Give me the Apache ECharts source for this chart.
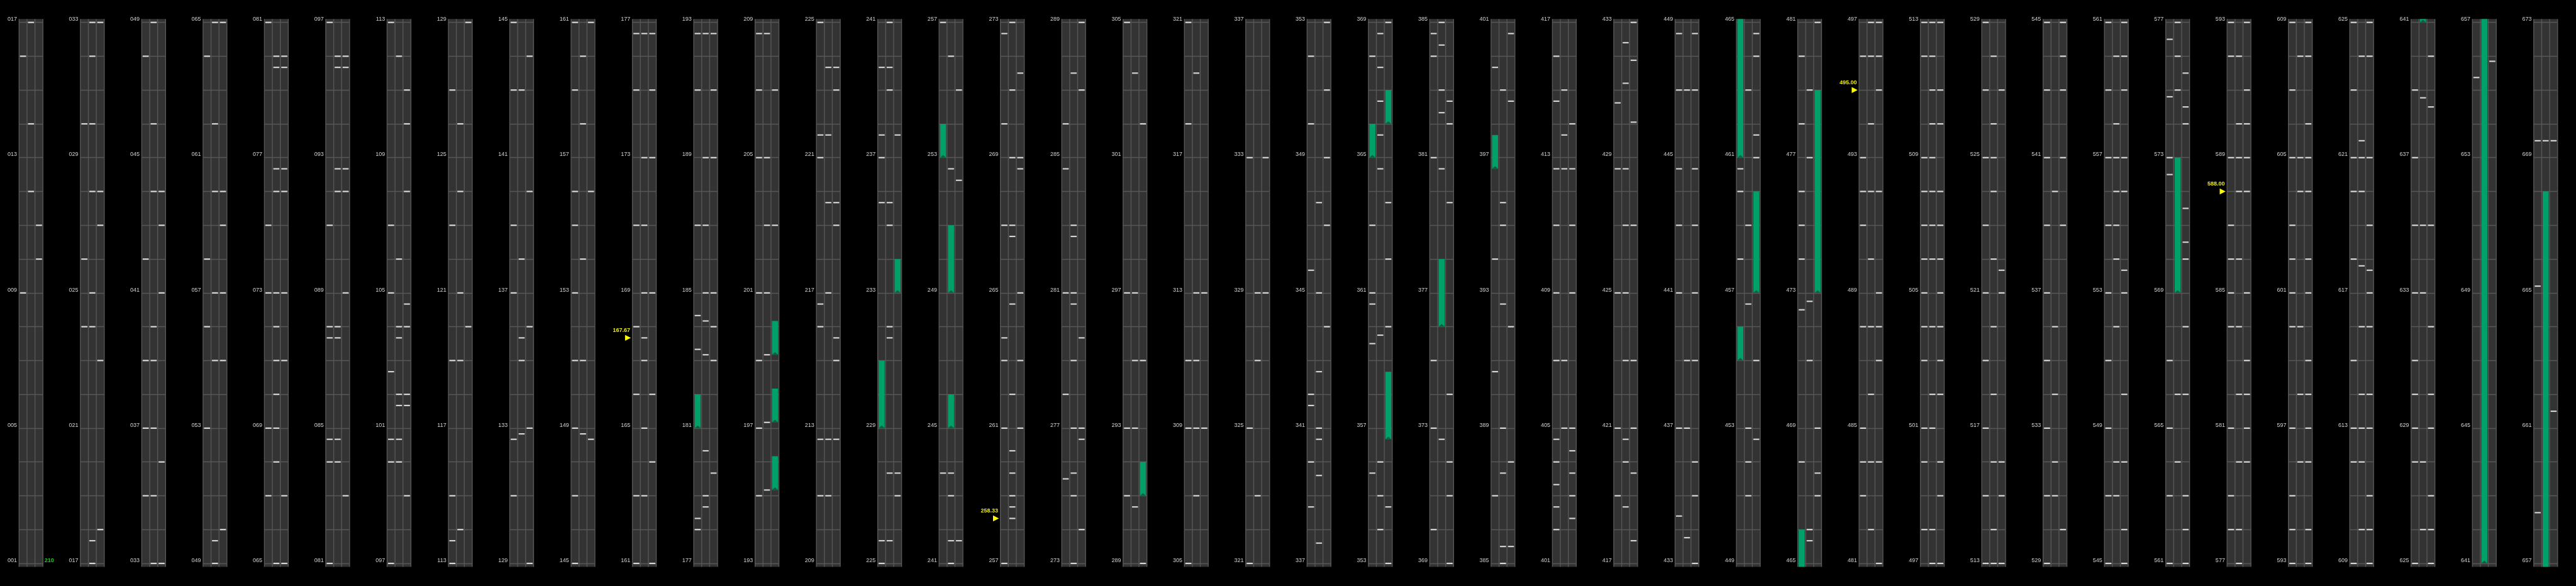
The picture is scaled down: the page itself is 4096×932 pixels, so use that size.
<!DOCTYPE html>
<html>
<head>
<meta charset="utf-8">
<script src="https://cdn.jsdelivr.net/npm/echarts@6/dist/echarts.min.js"></script>
<style>
html,body{margin:0;padding:0;background:#000;}
#chart{width:4096px;height:932px;}
</style>
</head>
<body>
<div id="chart"></div>
<script>
// ---------------- DATA ----------------
const panelCount = 42;
const panelSpan = 16;          // value range covered by one column panel
const firstBase = 1;           // bottom value of the first panel
const subColumns = ['A', 'B', 'C'];

// white dash levels per sub-column (absolute values)
const dashesA = [
  16, 9,
  30, 26, 24,
  48, 42, 39, 37, 35,
  64, 58, 56, 53,
  81, 75, 73, 69, 67,
  97, 91, 88, 87.67, 84.67, 84,
  113, 107, 105, 102.67, 100.67, 100,
  127, 123, 119, 115, 113.67,
  145, 143, 139, 137, 132.67, 131,
  161, 159, 156, 155, 153, 151, 149, 147,
  176.67, 175, 171, 168, 166, 163,
  192.67, 191, 187, 184.33, 183.33, 178.33, 178,
  208.67, 207, 205, 201, 199, 197, 195,
  225, 221.67, 221, 216.67, 216, 212.67, 211,
  239.67, 237.67, 237, 235.67, 225.67,
  257, 243.67,
  272.67, 270, 267, 263.67, 263, 261,
  286, 284.67, 281, 278, 275.5,
  305, 297, 293, 291,
  321, 318, 311, 309,
  333, 325,
  352, 350, 345.67, 342, 341.67, 340, 338.67,
  368, 363, 361, 360.67, 359.5, 355.67,
  384.67, 384, 381, 375, 373, 370,
  399.67, 394, 390.67, 387,
  416, 414.67, 412.67, 411, 409, 407, 404.67, 404, 403.33, 402.67, 402,
  430.62, 428.67, 425, 421, 419,
  448.67, 447, 444.67, 443, 441, 437, 434.4,
  460.67, 460, 458,
  480, 478, 476, 475, 474, 472.5, 468,
  496, 493, 492, 491, 488, 485, 484, 483,
  513, 512, 509, 508, 507, 506, 505, 504, 503, 501, 500, 498,
  529, 527, 525, 523, 521, 519, 517, 515,
  545, 543, 541, 539, 537, 535, 533, 531,
  561, 559, 557, 555, 553, 551, 549, 547,
  576.5, 574.8, 573, 572.5, 567, 565, 563,
  593, 592, 589, 587, 586, 585, 584, 581, 579, 578,
  609, 607, 605, 603, 602, 601, 600, 597, 595, 594,
  625, 623, 621, 620, 618, 615, 613, 612,
  639, 637, 635, 633, 631, 630, 629, 628,
  655.37,
  669.5, 665.2, 658.5
];
const dashesB = [
  17, 14, 12,
  33, 32, 30, 28, 25, 24, 17.67,
  49, 46, 44, 40, 39, 37, 35,
  65, 62, 60, 57, 55, 49.67,
  80, 79.67, 76.67, 76, 73, 72, 71, 70, 69, 68,
  96, 95.67, 92.67, 92, 88, 87.67, 84.67, 84,
  112, 106, 104, 103.67, 102, 101.67, 100.67, 100,
  126, 124, 121, 119, 114,
  143, 138, 135.67, 135, 132.83,
  160, 158, 154, 151, 148.83,
  176.67, 173, 171, 169, 167.67, 167, 165, 163,
  192.67, 189, 187, 185, 184.17, 183.17, 180.33, 179, 178.67,
  208.67, 205, 203, 201, 199.17, 197.17, 195.17,
  223.67, 221.67, 219.67, 217, 212.67, 211,
  241, 239.67, 239, 235.67, 235, 232, 231.67, 227.67, 225.67,
  256, 252.67, 243.67, 243, 241.67,
  273, 271, 269, 267, 266.67, 264.67, 262, 260.33, 259.67, 259, 258.67, 258.33,
  287.5, 283, 282.67, 281, 280.67, 279, 277, 275.67, 275,
  303.5, 297, 295, 293, 290.67,
  319.5, 313, 311, 309, 307,
  329, 327, 323,
  347.67, 345, 342.67, 341, 340.67, 339.6, 337.6,
  368.67, 367.67, 366.67, 365.67, 364.67, 359.75, 356, 355, 354,
  385, 384.33, 383, 382.33, 380.67, 372.67,
  399, 395.67, 395, 392.67, 389, 387.67, 385.5,
  415, 413.67, 412.67, 407, 405,
  432.4, 431.2, 428.67, 427, 425, 423, 420.67, 420, 418.67,
  447, 439, 437, 433.76,
  463, 459, 456.67, 453, 452, 451,
  479, 477, 472.75, 471, 466, 465.67,
  497, 496, 494, 492, 490, 488, 486, 484, 482,
  513, 512, 511, 510, 509, 508, 507, 506, 504, 502, 501, 498,
  528, 526, 525, 524, 522, 520, 518, 516, 514,
  540, 536, 534, 532, 531,
  560, 558, 557, 556, 555, 554, 552, 548, 547,
  577, 576, 575, 566, 564,
  592, 590, 589, 588, 586, 584, 582, 580, 578,
  608, 605, 604, 600, 598, 596,
  624, 621.5, 621, 620, 617.8, 616, 614, 613, 612, 610,
  638.77, 635, 633, 628, 626,
  669.5
];
const dashesC = [
  11, 10,
  33, 28, 27, 23, 18,
  44, 43, 41, 36,
  65, 60, 59, 57, 55, 50,
  80, 79.67, 76.67, 76, 73, 71, 67,
  96, 95.67, 92.67, 92, 89, 83,
  111, 110, 108, 104.67, 104, 102, 101.67, 99,
  129, 120,
  144, 140, 136, 133,
  161, 156, 148.67,
  176.67, 175, 173, 169, 166, 164,
  192.67, 191, 189, 185, 184, 183, 179.67,
  207, 203,
  223.67, 223, 219.67, 219, 215.67, 215, 212.67,
  237.67, 227.67, 227,
  255, 252.33, 241.67,
  271.5, 269, 268.67, 265, 263, 261,
  289, 287, 279.67, 277, 276.67, 274,
  302, 295,
  313, 309,
  333, 329,
  353, 351, 349, 347, 344,
  369, 363.67, 362, 360, 354.67,
  382.67, 382, 379.67, 374, 372, 371,
  400.67, 398.67, 392, 388, 385.5,
  414, 412.67, 411, 409, 405, 404.33, 403.67, 403, 402.33,
  433, 431.88, 430.05, 427, 423, 421, 419.67, 417.67,
  448.67, 447, 444.67, 443, 441, 439, 436, 435,
  464.67, 464, 461.67, 461, 455, 452.67,
  481, 469, 467.67, 467,
  497, 496, 495, 492, 489, 488, 487, 484,
  513, 511, 510, 508, 507, 506, 505, 504, 503, 502, 500, 499,
  527, 521.67, 521, 516, 515,
  545, 544, 543, 541, 539, 530,
  561, 560, 559, 557, 556, 553.67, 553, 550, 548, 546,
  575.5, 574.5, 574, 571.5, 570.5, 570, 568, 566, 563, 562,
  593, 591, 590, 589, 588, 585, 583, 582, 581, 580,
  609, 608, 606, 605, 604, 602, 601, 599, 598, 597, 596, 594,
  625, 624, 621, 619, 617.67, 617, 616, 614, 613, 611, 610,
  640, 638.5, 635, 632, 630, 629, 627, 626,
  655.85,
  669.5, 661.5
];

// green ranges per sub-column: [low, high]
const barsA = [[181, 182], [229, 231], [253, 254], [365, 366], [396.67, 397.67], [455, 456], [461, 466]];
const barsB = [[245, 246], [249, 251], [376, 378], [569, 573], [641, 668]];
const barsC = [[195.17, 196.17], [197.17, 198.17], [199.17, 200.17], [233, 234], [291, 292],
               [356.67, 358.67], [366, 367], [457, 460], [473, 479]];

// yellow level markers
const markerValues = [167.67, 258.33, 495.00, 588.00];
const cornerNote = '210';

// ---------------- LAYOUT ----------------
const S = 0.717;
const W = 4096;
const slot = W / panelCount;
const gridLeft0 = 42.3 * S;
const gridWidth = 52.9 * S;
const gridTop = 49.7 * S;
const gridHeight = 1200 * S;
const ext = 7.6 * S;           // panel body beyond the outer lines
const dashW = 13.3 * S, dashH = 3 * S;
const barW = 13.3 * S;
const triH = 6 * S;
const lineCol = '#575757';

const dashSets = [dashesA, dashesB, dashesC];
const barSets = [barsA, barsB, barsC];

const grids = [], xAxes = [], yAxes = [], series = [];

function pad3(v) { return String(v).padStart(3, '0'); }

for (let i = 0; i < panelCount; i++) {
  const base = firstBase + panelSpan * i;
  const top = base + panelSpan;
  grids.push({ left: gridLeft0 + slot * i, top: gridTop, width: gridWidth, height: gridHeight });
  xAxes.push({ type: 'category', gridIndex: i, data: subColumns, show: false, boundaryGap: true });
  yAxes.push({
    type: 'value', gridIndex: i, min: base, max: top, interval: 1,
    axisLine: { show: false }, axisTick: { show: false },
    splitLine: { show: true, lineStyle: { color: lineCol, width: 1.4 } },
    axisLabel: {
      show: true, margin: 3.3, color: '#cfcfcf', fontSize: 9,
      fontFamily: '"Liberation Sans", Arial, sans-serif',
      verticalAlign: 'bottom', lineHeight: 9.6,
      formatter: function (v) { return ((v - base) % 4 === 0) ? pad3(v) : ''; }
    }
  });

  // panel body
  series.push({
    type: 'custom', xAxisIndex: i, yAxisIndex: i, z: -1, silent: true, clip: false,
    data: [[0, base]],
    renderItem: function (params, api) {
      const cs = params.coordSys;
      const y0 = cs.y - ext, h = cs.height + 2 * ext;
      const ch = [{ type: 'rect', shape: { x: cs.x, y: y0, width: cs.width, height: h }, style: { fill: '#333333' } }];
      for (let k = 0; k <= subColumns.length; k++) {
        const x = cs.x + cs.width * k / subColumns.length;
        ch.push({ type: 'line', shape: { x1: x, y1: y0, x2: x, y2: y0 + h }, style: { stroke: lineCol, lineWidth: 1.4 } });
      }
      return { type: 'group', children: ch };
    }
  });

  // green ranges
  const barData = [];
  barSets.forEach((set, s) => set.forEach(b => {
    if (b[1] >= base - 0.11 && b[0] <= top + 0.11) barData.push([s, b[0], b[1]]);
  }));
  if (barData.length) {
    series.push({
      type: 'custom', xAxisIndex: i, yAxisIndex: i, z: 3, silent: true, clip: false,
      encode: { x: 0, y: [1, 2] },
      data: barData,
      renderItem: function (params, api) {
        const cs = params.coordSys;
        const s = api.value(0), lo = api.value(1), hi = api.value(2);
        const pLo = api.coord([s, lo]), pHi = api.coord([s, hi]);
        const yTop = Math.max(pHi[1], cs.y - ext);
        const yBot = Math.min(pLo[1], cs.y + cs.height + ext);
        if (yBot <= yTop) return;
        const ch = [{ type: 'rect', shape: { x: pLo[0] - barW / 2, y: yTop, width: barW, height: yBot - yTop }, style: { fill: '#00a169' } }];
        if (pLo[1] <= cs.y + cs.height + ext + 0.5 && pLo[1] >= cs.y - ext) {
          ch.push({ type: 'polygon', shape: { points: [[pLo[0] - barW / 2, pLo[1]], [pLo[0] + barW / 2, pLo[1]], [pLo[0], pLo[1] - triH]] }, style: { fill: '#135c3d' } });
        }
        return { type: 'group', children: ch };
      }
    });
  }

  // white dashes
  const dashData = [];
  dashSets.forEach((set, s) => set.forEach(v => { if (v >= base && v <= top) dashData.push([s, v]); }));
  series.push({
    type: 'scatter', xAxisIndex: i, yAxisIndex: i, z: 4, silent: true, clip: false,
    symbol: 'rect', symbolSize: [dashW, dashH],
    itemStyle: { color: '#ffffff' },
    data: dashData
  });

  // yellow level markers
  const mk = markerValues.filter(v => v >= base && v <= top).map(v => [0, v]);
  if (mk.length) {
    series.push({
      type: 'custom', xAxisIndex: i, yAxisIndex: i, z: 5, silent: true, clip: false,
      data: mk,
      renderItem: function (params, api) {
        const cs = params.coordSys;
        const v = api.value(1);
        const p = api.coord([0, v]);
        const tip = cs.x - 2.4, tw = 9.3, hh = 4.7;
        return {
          type: 'group', children: [
            { type: 'polygon', shape: { points: [[tip - tw, p[1] - hh], [tip, p[1]], [tip - tw, p[1] + hh]] }, style: { fill: '#ffff00' } },
            { type: 'text', style: { text: v.toFixed(2), x: cs.x - 3.6, y: p[1] - 11.5, align: 'right', verticalAlign: 'middle',
                fill: '#e6e614', fontSize: 9, fontWeight: 'bold', fontFamily: '"Liberation Sans", Arial, sans-serif' } }
          ]
        };
      }
    });
  }

  if (i === 0) {
    series.push({
      type: 'custom', xAxisIndex: i, yAxisIndex: i, z: 5, silent: true, clip: false,
      data: [[subColumns.length - 1, base]],
      renderItem: function (params, api) {
        const cs = params.coordSys;
        const p = api.coord([api.value(0), api.value(1)]);
        return { type: 'text', style: { text: cornerNote, x: cs.x + cs.width + 2.4, y: p[1] - 4.6, align: 'left', verticalAlign: 'middle',
          fill: '#22c322', fontSize: 9, fontWeight: 'bold', fontFamily: '"Liberation Sans", Arial, sans-serif' } };
      }
    });
  }
}

const chart = echarts.init(document.getElementById('chart'), null, { renderer: 'canvas' });
chart.setOption({
  backgroundColor: '#000000',
  animation: false,
  grid: grids,
  xAxis: xAxes,
  yAxis: yAxes,
  series: series
});
</script>
</body>
</html>
